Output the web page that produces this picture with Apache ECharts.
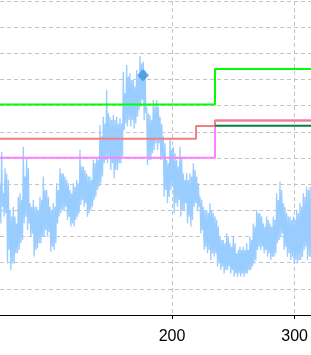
<!DOCTYPE html>
<html>
<head>
<meta charset="utf-8">
<script src="https://cdn.jsdelivr.net/npm/echarts@6/dist/echarts.min.js"></script>
<style>
html,body{margin:0;padding:0;background:#fff;}
#c{width:311px;height:355px;}
</style>
</head>
<body>
<div id="c"></div>
<script>
// ---- data ----
// evenly sampled noisy signal: first sample x and sample spacing
const signalStartX = 61.3;
const signalStepX = 0.672;
const signalY = [
50.3,35.0,62.4,41.4, 46.5,37.6,56.1,38.9, 54.1,19.7,51.6,24.8, 40.1,17.2,37.6,19.7,
41.4,19.7,37.6,23.6, 35.0,23.6,45.2,24.8, 46.5,27.4,43.9,28.7, 64.3,35.0,52.9,37.6,
59.9,32.5,56.1,35.0, 42.7,29.9,41.4,31.2, 43.9,22.3,41.4,24.8, 41.4,25.5,40.1,27.4,
45.2,27.4,43.9,29.9, 52.9,29.9,47.8,32.5, 47.8,29.9,45.2,31.8, 41.4,24.2,40.1,26.1,
42.7,24.8,41.4,27.4, 50.3,35.0,47.8,37.6, 56.1,38.9,54.1,40.1, 54.1,40.1,52.9,41.4,
51.6,36.3,50.3,37.6, 47.8,33.8,46.5,35.0, 50.3,33.8,49.0,36.3, 51.6,37.6,50.3,38.9,
63.1,42.0,56.7,43.9, 56.7,41.4,55.4,42.7, 54.1,37.6,52.9,38.9, 52.9,40.1,51.6,41.4,
59.2,43.9,58.0,45.2, 60.5,47.8,59.2,49.0, 72.6,50.3,68.2,52.9, 75.8,58.0,73.2,59.2,
86.0,58.0,77.1,60.5, 75.8,55.4,74.5,58.0, 76.4,52.2,74.5,55.4, 75.8,55.4,73.2,58.0,
75.2,58.0,73.2,60.5, 93.0,70.7,84.7,73.2, 95.5,72.0,91.1,74.5, 92.4,72.0,89.8,74.5,
89.8,71.3,87.3,73.2, 93.6,75.8,91.1,78.3, 99.0,79.6,96.2,82.2, 96.8,74.5,93.6,77.1,
79.6,57.3,77.1,59.2, 76.4,59.2,74.5,61.8, 82.2,63.1,79.6,65.6, 82.2,63.1,79.6,65.6,
75.8,59.2,73.2,60.5, 68.2,45.2,65.6,47.8, 59.2,42.7,58.0,45.2, 67.5,47.8,63.1,50.3,
64.3,38.9,61.8,42.7, 59.2,41.4,56.7,43.9, 64.3,37.6,60.5,40.1, 54.1,40.1,51.6,42.7,
54.1,35.0,51.6,37.6, 54.1,33.8,52.9,36.3, 58.0,41.4,55.4,42.7, 52.9,40.1,50.3,41.4,
45.2,31.2,43.9,32.5, 41.4,24.8,40.1,26.1, 40.1,23.6,38.9,24.8, 42.7,21.0,40.1,23.6,
38.9,22.3,37.6,23.6, 36.3,18.5,33.8,19.7, 29.9,17.2,28.7,18.5, 28.7,15.9,27.4,17.2,
31.2,17.2,29.9,18.5, 27.4,15.9,26.1,17.2, 29.9,14.6,27.4,15.9, 23.6,14.6,24.8,15.9,
26.1,14.6,24.8,15.9, 26.1,14.6,24.8,15.9, 27.4,15.9,24.8,17.2, 29.9,17.2,28.7,18.5,
35.0,19.7,33.8,21.0, 40.1,24.8,38.9,26.1, 38.9,24.8,37.6,26.1, 35.0,23.6,33.8,24.8,
37.6,22.3,36.3,23.6, 35.0,21.0,33.8,22.3, 37.6,22.3,36.3,23.6, 46.5,27.4,43.9,28.7,
51.0,29.9,47.8,31.2, 42.7,24.8,41.4,26.1, 38.9,22.3,37.6,23.6, 37.6,21.0,36.3,22.3,
37.6,19.7,36.3,21.0, 40.1,19.7,38.9,21.0, 42.7,21.0,41.4,22.3, 46.5,24.8,45.2,26.1,
49.0,21.0,47.8,22.3, 49.0,22.3,47.8,23.6
];
// step lines (x of each vertex, value held until next vertex)
const limeX = [50, 234.7, 330];
const limeY = [80.4, 94.0, 94.0];
const salmonX = [50, 219.4, 234.7, 330];
const salmonY = [67.4, 72.2, 74.3, 74.3];
const violetX = [50, 234.7, 330];
const violetY = [60.1, 74.3, 74.3];
const darkGreenX = [234.7, 330];
const darkGreenY = [72.3, 72.3];
// marked point
const markerX = [176.6];
const markerY = [91.6];
// tick labels shown on the x axis
const xTickStart = 200;
const xTickStep = 100;

// ---- build ----
const zip = (xs, ys) => xs.map((x, i) => [x, ys[i]]);
const signal = signalY.map((y, i) => [signalStartX + i * signalStepX, y]);

const gridColor = '#c4c4c4';
const dash = [4, 3];
const xLo = 61.3, xHi = 312.1;

const chart = echarts.init(document.getElementById('c'), null, {renderer: 'canvas'});
chart.setOption({
  animation: false,
  backgroundColor: '#ffffff',
  grid: [
    {left: 0, right: 0, top: 1, bottom: 40, containLabel: false},
    {left: 172, right: 0, top: 1, bottom: 40, containLabel: false}
  ],
  xAxis: [
    {
      type: 'value', gridIndex: 0, min: xLo, max: xHi,
      axisLine: {show: true, lineStyle: {color: '#000', width: 1}},
      axisTick: {show: false}, axisLabel: {show: false}, splitLine: {show: false}
    },
    {
      type: 'value', gridIndex: 1, min: xTickStart, max: xHi, interval: xTickStep,
      axisLine: {show: false},
      axisTick: {show: true, length: 4, lineStyle: {color: '#000', width: 1}},
      axisLabel: {show: true, color: '#000', fontSize: 16, fontFamily: 'Liberation Sans, Arial, sans-serif', margin: 14, showMaxLabel: false},
      splitLine: {show: true, showMaxLine: false, lineStyle: {color: gridColor, width: 1, type: dash}}
    }
  ],
  yAxis: [
    {
      type: 'value', gridIndex: 0, min: 0, max: 120, interval: 10,
      axisLine: {show: false}, axisTick: {show: false}, axisLabel: {show: false},
      splitLine: {show: true, lineStyle: {color: gridColor, width: 1, type: dash}}
    },
    {type: 'value', gridIndex: 1, min: 0, max: 120, show: false, splitLine: {show: false}}
  ],
  series: [
    {
      type: 'line', xAxisIndex: 0, yAxisIndex: 0, data: signal,
      showSymbol: false, symbol: 'none',
      lineStyle: {color: '#99ccff', width: 1.3}, z: 2
    },
    {
      type: 'line', xAxisIndex: 0, yAxisIndex: 0, data: zip(violetX, violetY), step: 'end',
      symbol: 'none', lineStyle: {color: '#ff80ff', width: 2}, z: 3
    },
    {
      type: 'line', xAxisIndex: 0, yAxisIndex: 0, data: zip(salmonX, salmonY), step: 'end',
      symbol: 'none', lineStyle: {color: '#f08080', width: 2}, z: 4
    },
    {
      type: 'line', xAxisIndex: 0, yAxisIndex: 0, data: zip(darkGreenX, darkGreenY), step: 'end',
      symbol: 'none', lineStyle: {color: '#008040', width: 2}, z: 5
    },
    {
      type: 'line', xAxisIndex: 0, yAxisIndex: 0, data: zip(limeX, limeY), step: 'end',
      symbol: 'none', lineStyle: {color: '#00ff00', width: 2}, z: 6
    },
    {
      type: 'scatter', xAxisIndex: 0, yAxisIndex: 0, data: zip(markerX, markerY),
      symbol: 'diamond', symbolSize: 12, itemStyle: {color: '#3d93dc'}, z: 7
    }
  ]
});
</script>
</body>
</html>
